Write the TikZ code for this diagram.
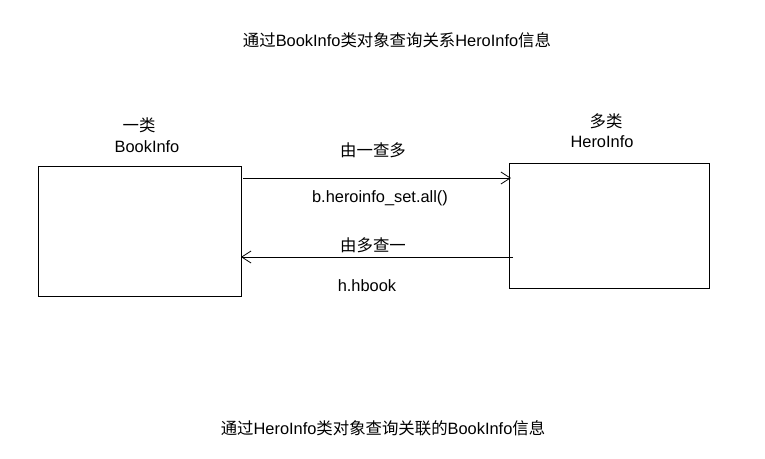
\documentclass[tikz,border=0pt]{standalone}
\usepackage{fontspec}
\setmainfont{Liberation Sans}
\newfontfamily\cjk{Noto Sans CJK SC}
\usetikzlibrary{arrows.meta}
\begin{document}
\begin{tikzpicture}[x=0.75pt,y=-0.75pt,
  txt/.style={inner sep=0pt,font=\fontsize{12.3pt}{14pt}\selectfont},
  box/.style={draw,line width=0.75pt,inner sep=0pt},
  conn/.style={line width=0.75pt,-{Straight Barb[length=7pt,width=9pt,line width=0.6pt]}}]
\useasboundingbox (0,0) rectangle (765,458);
\node[txt] (title) at (397,40) {{\cjk 通过}BookInfo{\cjk 类对象查询关系}HeroInfo{\cjk 信息}};
\node[txt] (bottom) at (383,428) {{\cjk 通过}HeroInfo{\cjk 类对象查询关联的}BookInfo{\cjk 信息}};
\draw[box] (38,166) rectangle (241,296);
\coordinate (L) at (241,178);
\coordinate (L2) at (241,257);
\draw[box] (509,163) rectangle (709,288);
\coordinate (R) at (511,178);
\coordinate (R2) at (513,257);
\node[txt] (one) at (139,125) {\cjk 一类};
\node[txt] (bi) at (147,147) {BookInfo};
\node[txt] (many) at (606,121) {\cjk 多类};
\node[txt] (hi) at (602,142) {HeroInfo};
\draw[conn] (243,178) -- (R);
\draw[conn] (R2) -- (L2);
\node[txt] (l1) at (373,150) {\cjk 由一查多};
\node[txt] (l2) at (380,198) {b.heroinfo\_set.all()};
\node[txt] (l3) at (373,245) {\cjk 由多查一};
\node[txt] (l4) at (367,286) {h.hbook};
\end{tikzpicture}
\end{document}
